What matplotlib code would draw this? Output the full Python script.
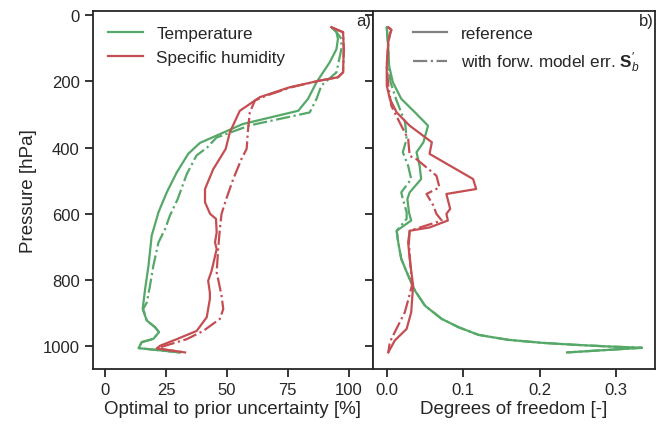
import matplotlib
matplotlib.use("Agg")
import matplotlib.pyplot as plt
from matplotlib.lines import Line2D

# ---------------- data ----------------
# Panel a) optimal to prior uncertainty [%]
t_ref_p = [37, 52, 72, 103, 143, 173, 203, 223, 253, 289, 329, 386, 419, 475, 535, 595, 666, 756, 827, 887, 922, 942, 957, 977, 987, 1005, 1018]
t_ref_v = [92.9, 95.0, 95.6, 95.0, 92.2, 89.5, 86.8, 85.4, 83.3, 79.3, 56.5, 38.9, 34.1, 29.4, 25.3, 21.9, 19.1, 17.8, 16.4, 15.4, 17.1, 20.5, 22.1, 19.8, 15.0, 13.7, 30.7]

t_err_p = [37, 72, 103, 173, 213, 253, 294, 333, 370, 399, 424, 480, 555, 605, 646, 686, 756, 817, 867, 887, 922, 942, 957, 977, 987, 1005, 1018]
t_err_v = [93.6, 97.0, 97.0, 95.0, 88.8, 86.8, 84.0, 59.4, 45.7, 42.0, 37.5, 33.5, 29.8, 26.6, 24.6, 21.9, 19.8, 18.4, 17.1, 15.6, 17.1, 20.5, 22.1, 19.8, 15.0, 13.7, 30.7]

q_ref_p = [37, 52, 103, 173, 188, 198, 218, 248, 289, 354, 404, 465, 525, 565, 600, 615, 656, 686, 706, 741, 772, 802, 837, 857, 912, 953, 978, 998, 1006, 1018]
q_ref_v = [92.9, 97.7, 98.0, 97.7, 95.6, 88.1, 75.8, 63.5, 55.3, 51.2, 49.5, 44.4, 41.0, 41.0, 43.1, 45.5, 45.8, 45.1, 45.8, 44.7, 43.7, 42.3, 43.0, 43.0, 41.7, 37.6, 29.4, 22.5, 21.2, 32.8]

q_err_p = [37, 52, 103, 173, 188, 198, 218, 243, 258, 294, 344, 404, 434, 495, 560, 600, 646, 706, 777, 797, 847, 887, 917, 953, 978, 998, 1006, 1018]
q_err_v = [92.9, 97.7, 98.0, 97.7, 95.6, 88.1, 76.5, 66.3, 61.5, 59.4, 58.7, 58.1, 56.0, 52.6, 49.5, 47.8, 47.1, 46.4, 45.8, 46.4, 47.8, 48.5, 47.1, 40.3, 33.5, 24.6, 21.2, 32.8]

# Panel b) degrees of freedom [-]
dt_ref_p = [37, 100, 153, 203, 253, 294, 334, 384, 414, 455, 495, 535, 555, 595, 620, 651, 686, 736, 786, 832, 877, 917, 942, 965, 980, 989, 995, 1000, 1004, 1018]
dt_ref_v = [0.000, 0.002, 0.003, 0.008, 0.019, 0.037, 0.054, 0.048, 0.039, 0.043, 0.045, 0.030, 0.027, 0.029, 0.032, 0.013, 0.015, 0.019, 0.028, 0.037, 0.050, 0.072, 0.094, 0.120, 0.159, 0.203, 0.246, 0.290, 0.334, 0.236]

dt_err_p = [37, 100, 153, 203, 253, 324, 374, 414, 455, 495, 535, 555, 595, 615, 651, 686, 736, 786, 832, 877, 917, 942, 965, 980, 989, 995, 1000, 1004, 1018]
dt_err_v = [0.000, 0.002, 0.002, 0.005, 0.012, 0.024, 0.026, 0.021, 0.028, 0.032, 0.019, 0.021, 0.026, 0.026, 0.013, 0.015, 0.019, 0.028, 0.037, 0.050, 0.072, 0.094, 0.120, 0.159, 0.203, 0.246, 0.290, 0.334, 0.236]

dq_ref_p = [37, 45, 60, 82, 153, 213, 253, 294, 334, 384, 419, 495, 525, 540, 585, 600, 620, 641, 651, 686, 736, 816, 897, 947, 982, 1018]
dq_ref_v = [0.002, 0.006, 0.004, 0.002, 0.000, 0.000, 0.004, 0.013, 0.030, 0.059, 0.056, 0.113, 0.117, 0.078, 0.083, 0.078, 0.080, 0.056, 0.030, 0.028, 0.030, 0.0345, 0.032, 0.026, 0.0105, 0.002]

dq_err_p = [37, 45, 60, 82, 153, 213, 274, 334, 374, 425, 435, 485, 520, 540, 575, 600, 620, 651, 686, 756, 816, 860, 897, 937, 987, 1018]
dq_err_v = [0.002, 0.006, 0.004, 0.002, 0.000, 0.002, 0.006, 0.019, 0.028, 0.030, 0.039, 0.065, 0.069, 0.052, 0.061, 0.065, 0.072, 0.030, 0.029, 0.031, 0.033, 0.028, 0.0236, 0.0148, 0.004, 0.002]

legend_a = ["Temperature", "Specific humidity"]
legend_b = ["reference", r"with forw. model err. $\mathbf{S}_b'$"]
xticks_a = [0, 25, 50, 75, 100]
xticks_b = [0.0, 0.1, 0.2, 0.3]
yticks = [0, 200, 400, 600, 800, 1000]

# ---------------- style ----------------
dark = "#262626"
green = "#55a868"
red = "#c44e52"
plt.rcParams.update({
    "font.family": ["Liberation Sans", "DejaVu Sans"],
    "mathtext.fontset": "custom",
    "mathtext.rm": "Liberation Sans",
    "mathtext.it": "Liberation Sans:italic",
    "mathtext.bf": "Liberation Sans:bold",
    "text.color": dark,
    "axes.labelcolor": dark,
    "axes.edgecolor": dark,
    "xtick.color": dark,
    "ytick.color": dark,
    "axes.linewidth": 1.3,
    "xtick.major.width": 1.3,
    "ytick.major.width": 1.3,
    "xtick.major.size": 6,
    "ytick.major.size": 6,
    "lines.linewidth": 1.6,
})

fig = plt.figure(figsize=(6.61, 4.27), dpi=100)
L, R1, R2 = 93 / 661, 373 / 661, 655 / 661
B, T = 1 - 370 / 427, 1 - 12 / 427
ax1 = fig.add_axes([L, B, R1 - L, T - B])
ax2 = fig.add_axes([R1, B, R2 - R1, T - B], sharey=ax1)

ax1.plot(t_ref_v, t_ref_p, color=green, ls="-")
ax1.plot(t_err_v, t_err_p, color=green, ls="-.")
ax1.plot(q_ref_v, q_ref_p, color=red, ls="-")
ax1.plot(q_err_v, q_err_p, color=red, ls="-.")

ax2.plot(dt_ref_v, dt_ref_p, color=green, ls="-")
ax2.plot(dt_err_v, dt_err_p, color=green, ls="-.")
ax2.plot(dq_ref_v, dq_ref_p, color=red, ls="-")
ax2.plot(dq_err_v, dq_err_p, color=red, ls="-.")

ax1.set_ylim(1068, -12)
ax1.set_xlim(-5, 110)
ax2.set_xlim(-0.018, 0.351)
ax1.set_yticks(yticks)
ax1.set_xticks(xticks_a)
ax2.set_xticks(xticks_b)
ax2.set_xticklabels([f"{v:.1f}" for v in xticks_b])

for ax in (ax1, ax2):
    ax.tick_params(axis="both", labelsize=12, direction="out", top=False, right=False)
ax2.tick_params(axis="y", labelleft=False)

ax1.set_ylabel("Pressure [hPa]", fontsize=13.5)
ax1.set_xlabel("Optimal to prior uncertainty [%]", fontsize=13.5, labelpad=2)
ax2.set_xlabel("Degrees of freedom [-]", fontsize=13.5, labelpad=2)

ax1.text(0.995, 0.995, "a)", transform=ax1.transAxes, ha="right", va="top", fontsize=12)
ax2.text(0.995, 0.995, "b)", transform=ax2.transAxes, ha="right", va="top", fontsize=12)

h_a = [Line2D([], [], color=green, ls="-", lw=1.6), Line2D([], [], color=red, ls="-", lw=1.6)]
ax1.legend(h_a, legend_a, loc="upper left", frameon=False, fontsize=12.3)
h_b = [Line2D([], [], color="gray", ls="-", lw=1.6), Line2D([], [], color="gray", ls="-.", lw=1.6)]
ax2.legend(h_b, legend_b, loc="upper right", frameon=False, fontsize=12.3)

fig.savefig("out.png", dpi=100)
